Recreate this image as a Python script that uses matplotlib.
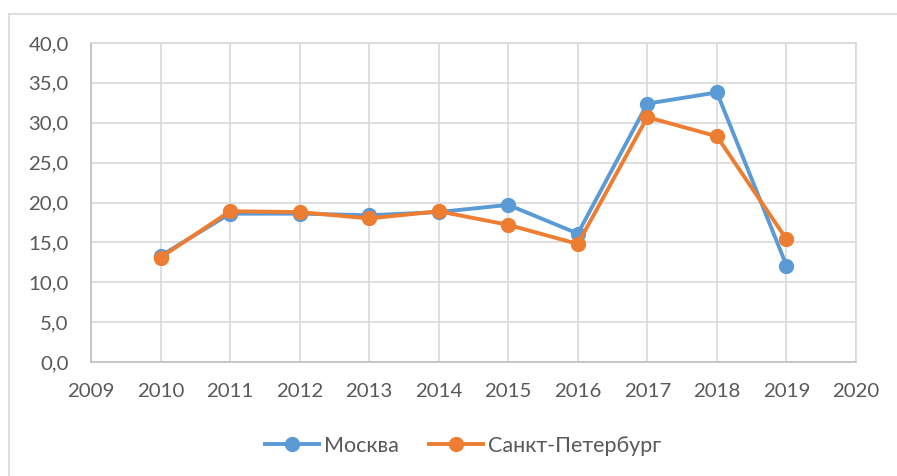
import matplotlib

matplotlib.use("Agg")
import matplotlib.pyplot as plt
from matplotlib.lines import Line2D
from matplotlib.ticker import FuncFormatter, MultipleLocator

years = [2010, 2011, 2012, 2013, 2014, 2015, 2016, 2017, 2018, 2019]
moscow = [13.3, 18.6, 18.6, 18.4, 18.8, 19.7, 16.1, 32.4, 33.8, 12.1]
spb = [13.1, 18.9, 18.8, 18.0, 18.9, 17.2, 14.8, 30.7, 28.3, 15.4]
series_names = ["Москва", "Санкт-Петербург"]

BLUE = "#5B9BD5"
ORANGE = "#ED7D31"
TEXT = "#595959"
GRID = "#D9D9D9"

plt.rcParams["font.family"] = ["Lato", "DejaVu Sans"]

fig = plt.figure(figsize=(8.97, 4.76), dpi=100)
ax = fig.add_axes([91 / 897, 1 - 362 / 476, (856 - 91) / 897, (362 - 43) / 476])

# chart-area frame (left and top edges visible in the reference)
fig.add_artist(Line2D([9 / 897, 9 / 897], [0, 1 - 14 / 476], color=GRID, lw=1.2))
fig.add_artist(Line2D([9 / 897, 1], [1 - 14 / 476, 1 - 14 / 476], color=GRID, lw=1.2))

ax.plot(years, moscow, color=BLUE, lw=2.8, marker="o", ms=10, label=series_names[0], zorder=3)
ax.plot(years, spb, color=ORANGE, lw=2.8, marker="o", ms=10, label=series_names[1], zorder=4)

ax.set_xlim(2009, 2020)
ax.set_ylim(0, 40)
ax.xaxis.set_major_locator(MultipleLocator(1))
ax.yaxis.set_major_locator(MultipleLocator(5))
ax.yaxis.set_major_formatter(FuncFormatter(lambda v, _: f"{v:.1f}".replace(".", ",")))
ax.grid(True, color=GRID, lw=1.2)
ax.set_axisbelow(True)
for side in ("top", "right"):
    ax.spines[side].set_color(GRID)
for side in ("left", "bottom"):
    ax.spines[side].set_color("#BFBFBF")
for sp in ax.spines.values():
    sp.set_linewidth(1.2)
ax.tick_params(length=0, labelsize=14.7, colors=TEXT)
ax.tick_params(axis="y", pad=16)
ax.tick_params(axis="x", pad=15)

fig.legend(loc="center", bbox_to_anchor=(463 / 897, 1 - 446 / 476), ncol=2, frameon=False,
           fontsize=15.5, labelcolor=TEXT, handlelength=2.5, columnspacing=1.4, handletextpad=0.25)

fig.savefig("out.png", dpi=100)
